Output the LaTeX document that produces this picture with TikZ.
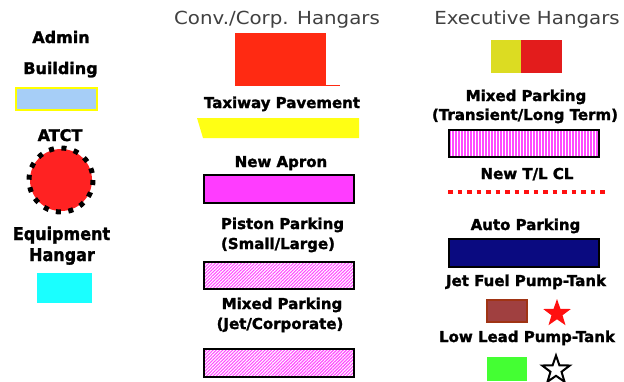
\documentclass[tikz,border=0pt]{standalone}
\usepackage{fontspec}
\usetikzlibrary{shapes.geometric,patterns.meta}
\newfontfamily\lblfont{DejaVu Sans}[BoldFeatures={FakeBold=1.6}]
\newfontfamily\ttlfont{DejaVu Sans}
\definecolor{ttlgray}{HTML}{404040}
\definecolor{adminblue}{HTML}{A6CEF7}
\definecolor{adminedge}{HTML}{FFFF00}
\definecolor{atctred}{HTML}{FF2222}
\definecolor{equipcyan}{HTML}{1AFFFF}
\definecolor{convred}{HTML}{FF2A12}
\definecolor{taxiyellow}{HTML}{FFFF14}
\definecolor{apronmag}{HTML}{FF3CFF}
\definecolor{hatchpink}{HTML}{FF4CFF}
\definecolor{execyellow}{HTML}{DCDC22}
\definecolor{execred}{HTML}{E31C1C}
\definecolor{tlred}{HTML}{FF1010}
\definecolor{autonavy}{HTML}{0A0A80}
\definecolor{jetbrown}{HTML}{A04040}
\definecolor{jetedge}{HTML}{A03414}
\definecolor{llgreen}{HTML}{44FF33}
\definecolor{starred}{HTML}{FF1010}
\begin{document}
\begin{tikzpicture}[x=1pt,y=-1pt,
  lbl/.style={anchor=base,inner sep=0pt,font=\lblfont\bfseries\fontsize{15}{18}\selectfont},
  lblL/.style={anchor=base,inner sep=0pt,font=\lblfont\bfseries\fontsize{16}{19}\selectfont},
  ttl/.style={anchor=base,inner sep=0pt,text=ttlgray,font=\ttlfont\fontsize{18}{21}\selectfont},
  boxed/.style={draw=black,line width=1.5pt},
  diaghatch/.style={pattern={Lines[angle=45,distance=2.3pt,line width=1.1pt]},pattern color=hatchpink},
  verthatch/.style={pattern={Lines[angle=90,distance=3pt,line width=1.4pt]},pattern color=hatchpink}]
\useasboundingbox[fill=white] (0,0) rectangle (624,381);

% ---------- left column ----------
\node[lblL] (admin) at (61,43) {Admin};
\node[lblL] (building) at (60.5,74) {Building};
\filldraw[fill=adminblue,draw=adminedge,line width=2pt] (16,88) rectangle (97,110);
\node[lblL] (atct) at (60,141) {ATCT};
\fill[atctred] (61,180) circle (31);
\draw[black,line width=5pt,dash pattern=on 5pt off 7.6pt] (61,180) circle (32);
\node[lblL] (equip) at (61.5,240) {\scalebox{1}[1.1]{Equipment}};
\node[lblL] (hangar) at (62,261) {\scalebox{1}[1.1]{Hangar}};
\fill[equipcyan] (37,273) rectangle (92,303);

% ---------- middle column ----------
\node[ttl] (conv) at (277,24) {\scalebox{1.1}[1]{Conv./Corp. Hangars}};
\fill[convred] (235,33) rectangle (326,86);
\draw[convred,line width=1pt] (326,85.5) -- (340,85.5);
\node[lbl] (taxi) at (282,108) {Taxiway Pavement};
\fill[taxiyellow] (197,118) -- (359,118) -- (359,138) -- (203,138) -- cycle;
\node[lbl] (apron) at (281,167) {New Apron};
\filldraw[fill=apronmag,boxed] (204,175) rectangle (354,203);
\node[lbl] (piston) at (282.5,229) {Piston Parking};
\node[lbl] (small) at (278,249) {(Small/Large)};
\draw[diaghatch] (204,262) rectangle (354,289);
\draw[boxed] (204,262) rectangle (354,289);
\node[lbl] (mixedjet) at (282,309) {Mixed Parking};
\node[lbl] (jetcorp) at (280,329) {(Jet/Corporate)};
\draw[diaghatch] (204,349) rectangle (354,377);
\draw[boxed] (204,349) rectangle (354,377);

% ---------- right column ----------
\node[ttl] (exec) at (527,24) {\scalebox{1.1}[1]{Executive Hangars}};
\fill[execyellow] (491,40) rectangle (521,73);
\fill[execred] (521,40) rectangle (562,73);
\node[lbl] (mixedtr) at (526,101) {Mixed Parking};
\node[lbl] (translong) at (525,120) {(Transient/Long Term)};
\draw[verthatch] (449,130) rectangle (599,157);
\draw[boxed] (449,130) rectangle (599,157);
\node[lbl] (tlcl) at (527,179) {New T/L CL};
\coordinate (tlA) at (448,192);
\coordinate (tlB) at (605,192);
\draw[tlred,line width=4.5pt,dash pattern=on 4.6pt off 4.9pt] (tlA) -- (tlB);
\node[lbl] (auto) at (525.5,230) {Auto Parking};
\filldraw[fill=autonavy,boxed] (449,239) rectangle (599,267);
\node[lbl] (jetfuel) at (526,286) {Jet Fuel Pump-Tank};
\filldraw[fill=jetbrown,draw=jetedge,line width=1.2pt] (487,300) rectangle (527,322);
\node[star,star points=5,star point ratio=2.5,minimum size=29pt,inner sep=0pt,fill=starred] (jetstar) at (557,313.5) {};
\node[lbl] (lowlead) at (527,342) {Low Lead Pump-Tank};
\fill[llgreen] (487,357) rectangle (527,381);
\node[star,star points=5,star point ratio=2.5,minimum size=29pt,inner sep=0pt,draw=black,line width=2pt,fill=white] (llstar) at (556,370) {};
\end{tikzpicture}
\end{document}
